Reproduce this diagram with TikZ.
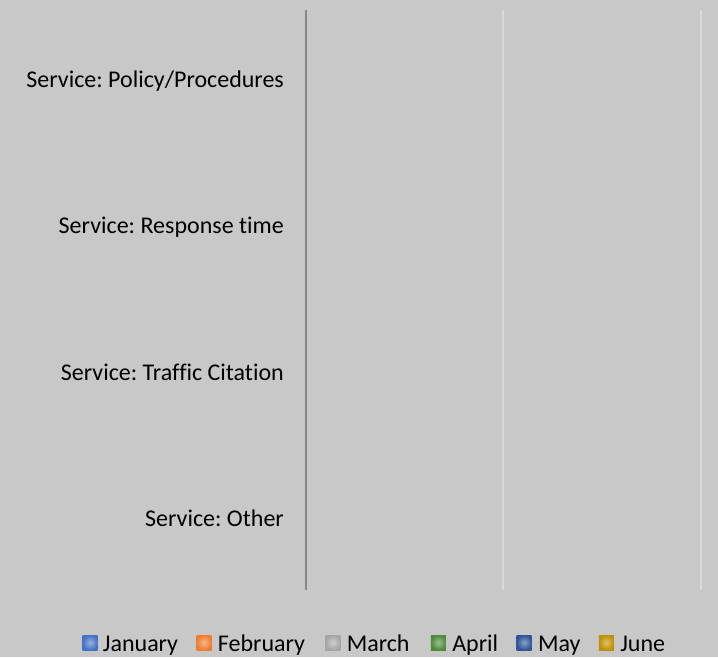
\documentclass[tikz,border=0pt]{standalone}
\usepackage{fontspec}
\setmainfont{Carlito}[Ligatures=NoCommon]
\frenchspacing
\usepackage{tikz}
\usetikzlibrary{positioning}
\definecolor{chartbg}{HTML}{C8C8C8}
\definecolor{axisgray}{HTML}{868686}
\definecolor{gridgray}{HTML}{D9D9D9}
\definecolor{janblue}{HTML}{4472C4}
\definecolor{feborange}{HTML}{ED7D31}
\definecolor{margray}{HTML}{A5A5A5}
\definecolor{aprgreen}{HTML}{4E8A3A}
\definecolor{maynavy}{HTML}{2F5597}
\definecolor{jungold}{HTML}{BF9000}
\tikzstyle{catlabel} = [anchor=east, inner sep=0pt, font=\fontsize{24}{28}\selectfont]
\tikzstyle{legtext} = [anchor=west, inner sep=0pt, text height=17pt, text depth=0pt, font=\fontsize{24}{28}\selectfont]
\tikzstyle{legkey} = [rectangle, minimum size=15pt, inner sep=0pt]
\tikzstyle{gridline} = [gridgray, line width=2pt]
\tikzstyle{axisline} = [axisgray, line width=2pt]

\begin{document}
\begin{tikzpicture}[x=1pt, y=-1pt]
		\fill[chartbg] (0,0) rectangle (718,657);
		\useasboundingbox (0,0) rectangle (718,657);

		\coordinate (axtop) at (305.5,9.5);
		\coordinate (axbot) at (305.5,590);
		\coordinate (gridatop) at (503,9.5);
		\coordinate (gridabot) at (503,590);
		\coordinate (gridbtop) at (701,9.5);
		\coordinate (gridbbot) at (701,590);

		\draw [gridline] (gridatop) -- (gridabot);
		\draw [gridline] (gridbtop) -- (gridbbot);
		\draw [axisline] (axtop) -- (axbot);

		\node (lblpolicy) [catlabel] at (284,81) {Service: Policy/Procedures};
		\node (lblresponse) [catlabel] at (284,227) {Service: Response time};
		\node (lbltraffic) [catlabel] at (284,372) {Service: Traffic Citation};
		\node (lblother) [catlabel] at (284,518) {Service: Other};

		% legend
		\node (keyjan) [legkey, shade, inner color=janblue!55!white, outer color=janblue] at (90,642.5) {};
		\node (txtjan) [legtext, right=5pt of keyjan] {January};
		\node (keyfeb) [legkey, shade, inner color=feborange!55!white, outer color=feborange, right=18pt of txtjan] {};
		\node (txtfeb) [legtext, right=6pt of keyfeb] {February};
		\node (keymar) [legkey, shade, inner color=margray!55!white, outer color=margray, right=20pt of txtfeb] {};
		\node (txtmar) [legtext, right=6pt of keymar] {March};
		\node (keyapr) [legkey, shade, inner color=aprgreen!55!white, outer color=aprgreen, right=21pt of txtmar] {};
		\node (txtapr) [legtext, right=6pt of keyapr] {April};
		\node (keymay) [legkey, shade, inner color=maynavy!55!white, outer color=maynavy, right=18pt of txtapr] {};
		\node (txtmay) [legtext, right=6pt of keymay] {May};
		\node (keyjun) [legkey, shade, inner color=jungold!55!white, outer color=jungold, right=18pt of txtmay] {};
		\node (txtjun) [legtext, right=6pt of keyjun] {June};
	\end{tikzpicture}
\end{document}
